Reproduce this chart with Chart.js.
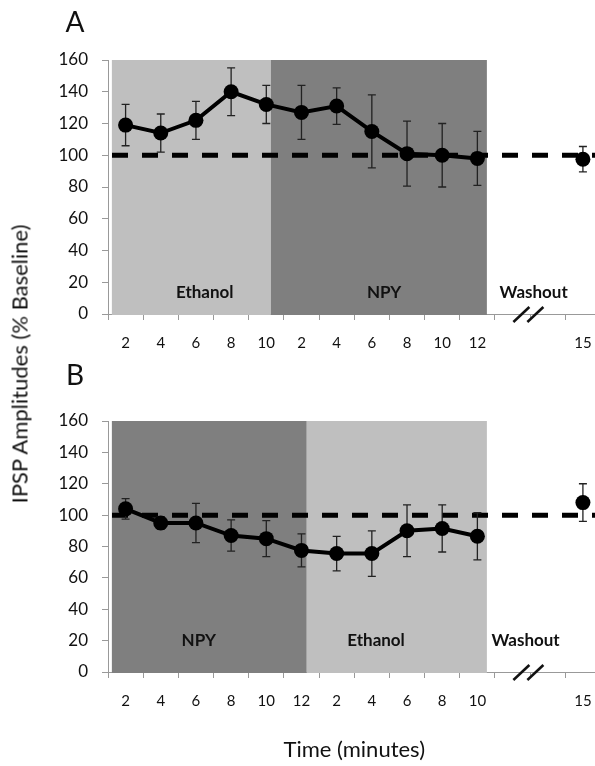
<!DOCTYPE html>
<html lang="en">
<head>
  <meta charset="UTF-8" />
  <title>IPSP amplitudes</title>
  <script src="https://cdn.jsdelivr.net/npm/chart.js"></script>
  <style>
    html, body {
      margin: 0;
      width: 595px;
      height: 766px;
      overflow: hidden;
      background: #fff;
      font-family: 'Lato', sans-serif;
      color: #111;
    }

    canvas {
      position: absolute;
      left: 0;
    }

    #chartA { top: 0; }
    #chartB { top: 360px; }

    .letter {
      position: absolute;
      left: 75px;
      font-size: 28px;
      transform: translate(-50%, -50%);
    }

    .y-title {
      position: absolute;
      left: 19px;
      top: 364px;
      font-size: 22px;
      white-space: nowrap;
      transform: translate(-50%, -50%) rotate(-90deg);
    }
  </style>
</head>
<body>
  <canvas id="chartA" width="608" height="360"></canvas>
  <canvas id="chartB" width="608" height="406"></canvas>

  <div class="letter" style="top: 21px;">A</div>
  <div class="letter" style="top: 374px;">B</div>
  <div class="y-title">IPSP Amplitudes (% Baseline)</div>

  <script>
    // values (% of baseline), two empty slots before washout
    const timeLabelsA = ['2', '4', '6', '8', '10', '2', '4', '6', '8', '10', '12', '', '', '15'];
    const amplitudeA = [119, 114, 122, 140, 132, 127, 131, 115, 101, 100, 98, null, null, 97.5];
    const errorA = [13, 12, 12, 15, 12, 17, 11.5, 23, 20.5, 20, 17, null, null, 8];

    const timeLabelsB = ['2', '4', '6', '8', '10', '12', '2', '4', '6', '8', '10', '', '', '15'];
    const amplitudeB = [104, 95, 95, 87, 85, 77.5, 75.5, 75.5, 90, 91.5, 86.5, null, null, 108];
    const errorB = [6.5, 4, 12.5, 10, 11.5, 10.5, 11, 14.5, 16.5, 15, 15, null, null, 12];

    // treatment periods, in category index units
    const phasesA = [
      { name: 'Ethanol', from: -0.39, to: 4.13, labelAt: 2.25, color: '#bfbfbf' },
      { name: 'NPY', from: 4.13, to: 10.27, labelAt: 7.35, color: '#7f7f7f' }
    ];
    const phasesB = [
      { name: 'NPY', from: -0.39, to: 5.15, labelAt: 2.08, color: '#7f7f7f' },
      { name: 'Ethanol', from: 5.15, to: 10.27, labelAt: 7.12, color: '#bfbfbf' }
    ];
    const washoutAtA = 11.6;
    const washoutAtB = 11.37;
    const breakAt = 11.45;
    const baseline = 100;

    Chart.defaults.font.family = 'Lato';
    Chart.defaults.color = '#111';

    const panelPlugin = {
      id: 'panelPlugin',
      beforeDatasetsDraw(chart, args, opts) {
        const { ctx, chartArea } = chart;
        const x = chart.scales.x;
        const y = chart.scales.y;
        ctx.save();

        // shaded periods
        opts.phases.forEach(p => {
          const x0 = x.getPixelForValue(p.from);
          const x1 = x.getPixelForValue(p.to);
          ctx.fillStyle = p.color;
          ctx.fillRect(x0, y.getPixelForValue(160), x1 - x0, y.getPixelForValue(0) - y.getPixelForValue(160) + 1);
        });

        // dashed baseline
        ctx.strokeStyle = '#000';
        ctx.lineWidth = 5;
        ctx.setLineDash([16, 14]);
        ctx.beginPath();
        ctx.moveTo(chartArea.left + 4, y.getPixelForValue(baseline));
        ctx.lineTo(chartArea.right, y.getPixelForValue(baseline));
        ctx.stroke();
        ctx.setLineDash([]);

        // error bars
        const ds = chart.data.datasets[0];
        ctx.strokeStyle = '#222';
        ctx.lineWidth = 1.3;
        ds.data.forEach((v, i) => {
          if (v === null) return;
          const e = ds.errorBars[i];
          const px = x.getPixelForValue(i);
          const top = y.getPixelForValue(v + e);
          const bot = y.getPixelForValue(v - e);
          ctx.beginPath();
          ctx.moveTo(px, top); ctx.lineTo(px, bot);
          ctx.moveTo(px - 4, top); ctx.lineTo(px + 4, top);
          ctx.moveTo(px - 4, bot); ctx.lineTo(px + 4, bot);
          ctx.stroke();
        });
        ctx.restore();
      },
      afterDatasetsDraw(chart, args, opts) {
        const { ctx } = chart;
        const x = chart.scales.x;
        const y = chart.scales.y;
        ctx.save();
        ctx.fillStyle = '#111';
        ctx.font = 'bold 17px Lato';
        ctx.textAlign = 'center';
        ctx.textBaseline = 'middle';
        opts.phases.forEach(p => {
          ctx.fillText(p.name, x.getPixelForValue(p.labelAt), y.getPixelForValue(opts.labelLevel));
        });
        ctx.fillText('Washout', x.getPixelForValue(opts.washoutAt), y.getPixelForValue(opts.labelLevel));

        // axis break marks
        const bx = x.getPixelForValue(breakAt);
        const by = y.getPixelForValue(0);
        ctx.strokeStyle = '#111';
        ctx.lineWidth = 2.5;
        [-7, 7].forEach(dx => {
          ctx.beginPath();
          ctx.moveTo(bx + dx - 8, by + 8);
          ctx.lineTo(bx + dx + 8, by - 7);
          ctx.stroke();
        });
        ctx.restore();
      }
    };

    function makeChart(id, labels, values, errors, phases, washoutAt, labelLevel, padTop, xHeight, showTitle) {
      return new Chart(document.getElementById(id), {
        type: 'line',
        data: {
          labels: labels,
          datasets: [{
            data: values,
            errorBars: errors,
            borderColor: '#000',
            borderWidth: 4,
            pointRadius: 7.5,
            pointBackgroundColor: '#000',
            pointBorderWidth: 0,
            tension: 0,
            spanGaps: false
          }]
        },
        options: {
          responsive: false,
          animation: false,
          layout: { padding: { top: padTop, left: 0, right: 0, bottom: 0 } },
          plugins: {
            legend: { display: false },
            tooltip: { enabled: false },
            panelPlugin: { phases: phases, washoutAt: washoutAt, labelLevel: labelLevel }
          },
          scales: {
            x: {
              type: 'category',
              offset: true,
              grid: { offset: true, drawOnChartArea: false, tickLength: 6, color: '#999' },
              border: { color: '#999' },
              ticks: { font: { size: 15 }, padding: 14, maxRotation: 0, autoSkip: false },
              title: { display: showTitle, text: 'Time (minutes)', font: { size: 22 }, padding: { top: 0, bottom: 3 } },
              afterFit(scale) { scale.height = xHeight; }
            },
            y: {
              min: 0,
              max: 160,
              grid: { drawOnChartArea: false, tickLength: 6, color: '#999' },
              border: { color: '#999' },
              ticks: { stepSize: 20, font: { size: 17 }, padding: 14 },
              afterFit(scale) { scale.width = 108; }
            }
          }
        },
        plugins: [panelPlugin]
      });
    }

    makeChart('chartA', timeLabelsA, amplitudeA, errorA, phasesA, washoutAtA, 13.5, 60, 46, false);
    makeChart('chartB', timeLabelsB, amplitudeB, errorB, phasesB, washoutAtB, 20, 61, 94, true);
  </script>
</body>
</html>
